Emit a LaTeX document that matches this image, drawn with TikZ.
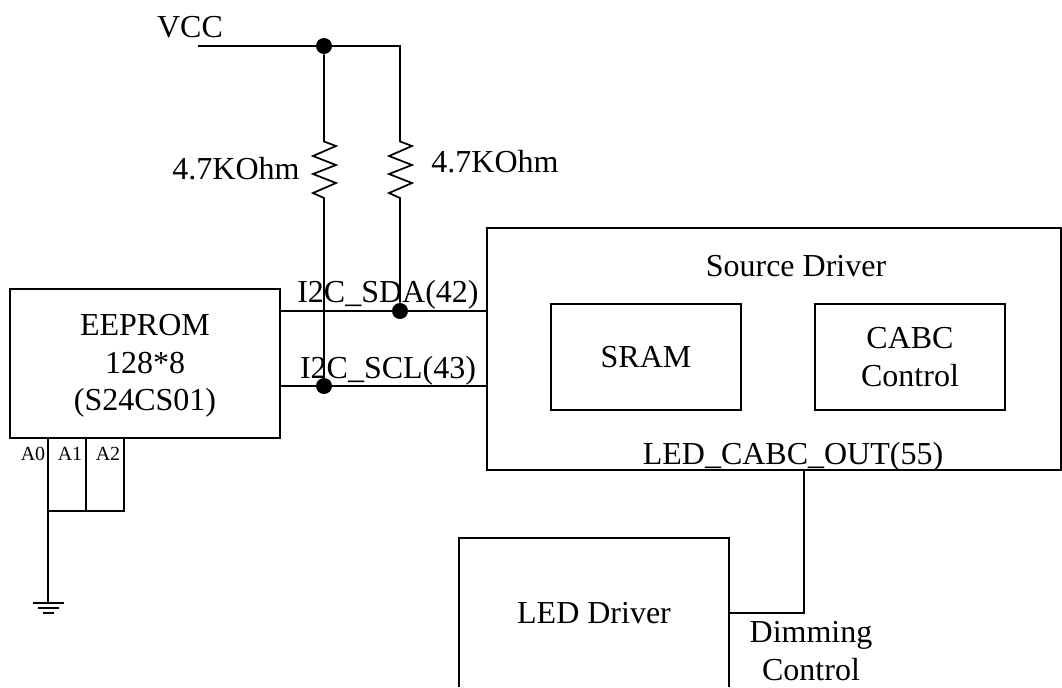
\documentclass[tikz,border=0pt]{standalone}
\usepackage{fontspec}
\setmainfont{Liberation Serif}
\newcommand{\Zig}{-- ++(12,4.5) -- ++(-23,10) -- ++(23,9) -- ++(-23,9) -- ++(23,9) -- ++(-23,10) -- ++(11,5)}
\tikzset{
    blockbox/.style={draw,line width=1.3pt,inner sep=0pt,align=center,font=\fontsize{24}{28.3}\selectfont},
    wire/.style={line width=1.3pt},
    thinwire/.style={line width=0.8pt},
    lbl/.style={inner sep=0pt,align=center,font=\fontsize{24}{28.3}\selectfont},
    pinlbl/.style={inner sep=0pt,font=\fontsize{15}{18}\selectfont},
    junction/.style={circle,fill=black,inner sep=0pt,minimum size=12pt}
}

\begin{document}
\begin{tikzpicture}[x=0.75pt,y=-0.75pt]
        \useasboundingbox (0,0) rectangle (1062,687);
        % blocks
        \node[blockbox,minimum width=202.5pt,minimum height=111.75pt] (eeprom) at (145,363.5) {};
        \node[lbl] (eepromlbl) at (145,366) {EEPROM\\128*8\\(S24CS01)};
        \node[blockbox,minimum width=430.5pt,minimum height=181.5pt] (source) at (774,349) {};
        \node[blockbox,minimum width=142.5pt,minimum height=79.5pt] (sram) at (646,357) {SRAM};
        \node[blockbox,minimum width=142.5pt,minimum height=79.5pt] (cabc) at (910,357) {CABC\\Control};
        \node[lbl] (sourcelbl) at (796,266) {Source Driver};
        \node[lbl] (ledlbl) at (594,613) {LED Driver};
        \coordinate (ledbl) at (459,687);
        \coordinate (ledtl) at (459,538);
        \coordinate (ledtr) at (729,538);
        \coordinate (ledbr) at (729,687);
        \draw[line width=1.3pt] (ledbl) -- (ledtl) -- (ledtr) -- (ledbr);
        % pull-ups
        \coordinate (vccend) at (198,46);
        \coordinate (vcccorner) at (400,46);
        \node[junction] (vccdot) at (324,46) {};
        \node[junction] (sdadot) at (400,311) {};
        \node[junction] (scldot) at (324,386) {};
        \draw[wire] (vccend) -- (vcccorner) -- (400,141.5) \Zig -- (sdadot);
        \draw[wire] (vccdot) -- (324,141.5) \Zig -- (scldot);
        % i2c lines
        \draw[thinwire] (eeprom.east |- sdadot) -- (source.west |- sdadot);
        \draw[thinwire] (eeprom.east |- scldot) -- (source.west |- scldot);
        % address pins
        \coordinate (a0top) at (48,438);
        \coordinate (a1top) at (86,438);
        \coordinate (a2top) at (124,438);
        \coordinate (a0bot) at (48,511);
        \coordinate (a2bot) at (124,511);
        \coordinate (a1bot) at (86,511);
        \coordinate (gnd) at (48,603);
        \draw[thinwire] (a0top) -- (gnd);
        \draw[thinwire] (a1top) -- (a1bot);
        \draw[thinwire] (a2top) -- (a2bot) -- (a0bot);
        \draw[thinwire] (33,603) -- (64,603);
        \draw[thinwire] (38,608) -- (59,608);
        \draw[thinwire] (43,613) -- (54,613);
        % dimming line
        \coordinate (dimtop) at (804,470);
        \coordinate (dimcorner) at (804,613);
        \coordinate (dimend) at (729,613);
        \draw[thinwire] (dimtop) -- (dimcorner) -- (dimend);
        % labels
        \node[lbl] (vcc) at (190,27) {VCC};
        \node[lbl] (resleft) at (236,169) {4.7KOhm};
        \node[lbl] (resright) at (495,162) {4.7KOhm};
        \node[lbl] (sda) at (388,295) {I2C\_SDA(42)};
        \node[lbl] (scl) at (388,371) {I2C\_SCL(43)};
        \node[lbl] (cabcout) at (793,457) {LED\_CABC\_OUT(55)};
        \node[lbl] (dimlbl) at (811,651) {Dimming\\Control};
        \node[pinlbl] (a0) at (33,454) {A0};
        \node[pinlbl] (a1) at (70,454) {A1};
        \node[pinlbl] (a2) at (108,454) {A2};
    \end{tikzpicture}
\end{document}
